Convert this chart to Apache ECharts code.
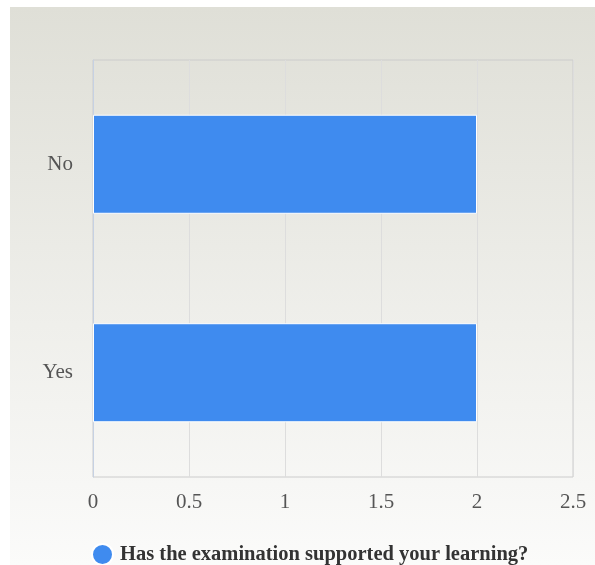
<!DOCTYPE html>
<html><head><meta charset="utf-8">
<script src="https://cdn.jsdelivr.net/npm/echarts@6/dist/echarts.min.js"></script>
<style>
html,body{margin:0;padding:0;background:#fff;}
#c{position:absolute;left:10px;top:7px;width:585px;height:558px;background:linear-gradient(to bottom,#dfdfd7 0%,#fbfbfa 100%);}
</style></head><body>
<div id="c"></div>
<script>
const categories = ["Yes", "No"];
const seriesName = "Has the examination supported your learning?";
const values = [2, 2];
const xTicks = { min: 0, max: 2.5, interval: 0.5 };

const chart = echarts.init(document.getElementById('c'), null, {renderer:'canvas'});
chart.setOption({
  animation:false,
  backgroundColor:'transparent',
  grid:{left:83,top:53,right:22,bottom:88,show:true,borderColor:'#cccccc',borderWidth:1},
  legend:{
    top:531,left:76,
    icon:'circle',itemWidth:21,itemHeight:21,itemGap:5,
    textStyle:{fontFamily:'Liberation Serif',fontWeight:'bold',fontSize:20.5,color:'#333',padding:[0,0,0,2]},
    data:[seriesName]
  },
  xAxis:{
    type:'value',min:xTicks.min,max:xTicks.max,interval:xTicks.interval,
    axisLine:{show:false},axisTick:{show:false},
    axisLabel:{fontFamily:'Liberation Serif',fontSize:21,color:'#555',margin:15},
    splitLine:{show:true,lineStyle:{color:'#dddddd',width:1}}
  },
  yAxis:{
    type:'category',data:categories,
    axisLine:{show:true,lineStyle:{color:'#c6d1e3',width:1}},
    axisTick:{show:false},
    axisLabel:{fontFamily:'Liberation Serif',fontSize:21,color:'#555',margin:20},
    splitLine:{show:false}
  },
  series:[{
    name:seriesName,type:'bar',data:values,barWidth:'47.5%',
    itemStyle:{color:'#3f8bef',borderColor:'#ffffff',borderWidth:1}
  }]
});
</script></body></html>
